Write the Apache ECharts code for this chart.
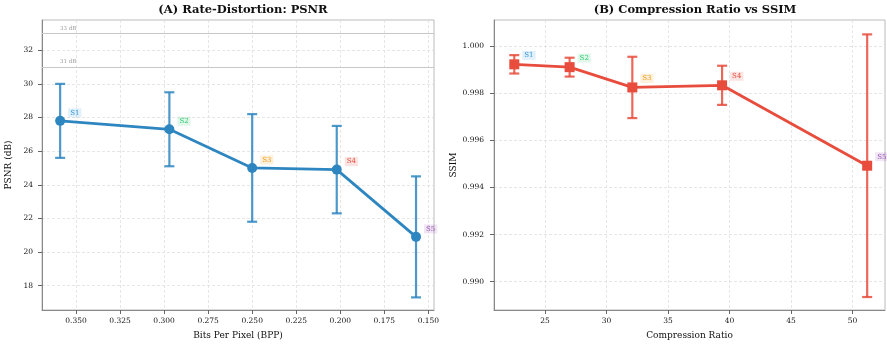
<!DOCTYPE html>
<html>
<head>
<meta charset="utf-8">
<script src="https://cdn.jsdelivr.net/npm/echarts@6/dist/echarts.min.js"></script>
<style>
  html, body { margin: 0; padding: 0; background: #fff; }
  #chart { width: 887px; height: 348px; }
</style>
</head>
<body>
<div id="chart"></div>
<script>
// Settings S1..S5: bitrate, PSNR (mean ± std), compression ratio, SSIM (mean ± std)
const names = ['S1', 'S2', 'S3', 'S4', 'S5'];
const nameColors = ['#3498db', '#2ecc71', '#f39c12', '#e74c3c', '#9b59b6'];
const bpp = [0.359, 0.297, 0.250, 0.202, 0.157];
const psnr = [27.8, 27.3, 25.0, 24.9, 20.9];
const psnrErr = [2.2, 2.2, 3.2, 2.6, 3.6];
const ratio = [22.5, 27.0, 32.1, 39.4, 51.2];
const ssim = [0.99922, 0.99910, 0.99824, 0.99833, 0.99492];
const ssimErr = [0.00039, 0.00040, 0.00130, 0.00083, 0.00557];

// Reference PSNR levels
const refLevels = [33, 31];
const refLabels = ['33 dB', '31 dB'];

// Tick labels
const bppTicks = [0.350, 0.325, 0.300, 0.275, 0.250, 0.225, 0.200, 0.175, 0.150];
const psnrTicks = [18, 20, 22, 24, 26, 28, 30, 32];
const ratioTicks = [25, 30, 35, 40, 45, 50];
const ssimTicks = [0.990, 0.992, 0.994, 0.996, 0.998, 1.000];

const FONT = 'DejaVu Serif';
const BLUE = '#2E86C1';
const RED = '#E74C3C';

const chart = echarts.init(document.getElementById('chart'), null, { renderer: 'canvas' });

function errorBarRenderer(capHalf) {
  return function (params, api) {
    const x = api.value(0);
    const lo = api.value(1);
    const hi = api.value(2);
    const top = api.coord([x, hi]);
    const bot = api.coord([x, lo]);
    const style = { stroke: api.visual('color'), lineWidth: 2.2, opacity: 0.85 };
    return {
      type: 'group',
      children: [
        { type: 'line', shape: { x1: top[0], y1: top[1], x2: bot[0], y2: bot[1] }, style },
        { type: 'line', shape: { x1: top[0] - capHalf, y1: top[1], x2: top[0] + capHalf, y2: top[1] }, style },
        { type: 'line', shape: { x1: bot[0] - capHalf, y1: bot[1], x2: bot[0] + capHalf, y2: bot[1] }, style }
      ]
    };
  };
}

function pointLabels(xs, ys) {
  return xs.map((x, i) => ({
    value: [x, ys[i]],
    label: {
      show: true,
      formatter: names[i],
      color: nameColors[i],
      backgroundColor: echarts.color.modifyAlpha(nameColors[i], 0.15),
      padding: [1, 2]
    }
  }));
}

const axisLabelStyle = { fontFamily: FONT, fontSize: 7.5, color: '#111' };
const axisNameStyle = { fontFamily: FONT, fontSize: 9, color: '#111' };
const gridLineStyle = { show: true, lineStyle: { color: '#e0e0e0', type: [3, 2], width: 0.8 } };
const axisLineStyle = { show: true, lineStyle: { color: '#888', width: 1 } };
const tickStyle = { show: true, length: 4, lineStyle: { color: '#666' } };

const option = {
  backgroundColor: '#fff',
  animation: false,
  title: [
    { text: '(A) Rate-Distortion: PSNR', left: 238, top: -1, textAlign: 'center',
      textStyle: { fontFamily: FONT, fontWeight: 'bold', fontSize: 11.5, color: '#111' } },
    { text: '(B) Compression Ratio vs SSIM', left: 690, top: -1, textAlign: 'center',
      textStyle: { fontFamily: FONT, fontWeight: 'bold', fontSize: 11.5, color: '#111' } }
  ],
  grid: [
    { left: 42, right: 453, top: 20, bottom: 38, show: true, borderColor: '#bbb', borderWidth: 1 },
    { left: 494, right: 2, top: 20, bottom: 38, show: true, borderColor: '#bbb', borderWidth: 1 }
  ],
  xAxis: [
    {
      gridIndex: 0, type: 'value', inverse: true, min: 0.1468, max: 0.3693,
      name: 'Bits Per Pixel (BPP)', nameLocation: 'middle', nameGap: 21, nameTextStyle: axisNameStyle,
      axisLine: axisLineStyle, axisTick: Object.assign({ customValues: bppTicks }, tickStyle),
      axisLabel: Object.assign({ customValues: bppTicks, margin: 7, formatter: v => v.toFixed(3) }, axisLabelStyle),
      splitLine: gridLineStyle
    },
    {
      gridIndex: 1, type: 'value', min: 20.85, max: 52.65,
      name: 'Compression Ratio', nameLocation: 'middle', nameGap: 21, nameTextStyle: axisNameStyle,
      axisLine: axisLineStyle, axisTick: Object.assign({ customValues: ratioTicks }, tickStyle),
      axisLabel: Object.assign({ customValues: ratioTicks, margin: 7 }, axisLabelStyle),
      splitLine: gridLineStyle
    }
  ],
  yAxis: [
    {
      gridIndex: 0, type: 'value', min: 16.55, max: 33.8,
      name: 'PSNR (dB)', nameLocation: 'middle', nameGap: 29, nameTextStyle: axisNameStyle,
      axisLine: axisLineStyle, axisTick: Object.assign({ customValues: psnrTicks }, tickStyle),
      axisLabel: Object.assign({ customValues: psnrTicks, margin: 9 }, axisLabelStyle),
      splitLine: gridLineStyle
    },
    {
      gridIndex: 1, type: 'value', min: 0.9888, max: 1.0011,
      name: 'SSIM', nameLocation: 'middle', nameGap: 34, nameTextStyle: axisNameStyle,
      axisLine: axisLineStyle, axisTick: Object.assign({ customValues: ssimTicks }, tickStyle),
      axisLabel: Object.assign({ customValues: ssimTicks, margin: 10, formatter: v => v.toFixed(3) }, axisLabelStyle),
      splitLine: gridLineStyle
    }
  ],
  series: [
    {
      type: 'custom', xAxisIndex: 0, yAxisIndex: 0, color: BLUE, z: 2,
      renderItem: errorBarRenderer(5),
      encode: { x: 0, y: [1, 2] },
      data: bpp.map((x, i) => [x, psnr[i] - psnrErr[i], psnr[i] + psnrErr[i]])
    },
    {
      type: 'line', xAxisIndex: 0, yAxisIndex: 0, z: 3,
      symbol: 'circle', symbolSize: 10,
      lineStyle: { color: BLUE, width: 2.8 },
      itemStyle: { color: BLUE },
      label: { position: 'right', distance: 3, offset: [0, -8], fontFamily: FONT, fontSize: 7 },
      data: pointLabels(bpp, psnr),
      markLine: {
        silent: true, symbol: 'none',
        lineStyle: { color: '#c8c8c8', type: 'solid', width: 1 },
        label: { position: 'insideEndTop', distance: [18, 2], fontFamily: FONT, fontSize: 5.5, color: '#999' },
        data: refLevels.map((v, i) => ({ yAxis: v, label: { formatter: refLabels[i] } }))
      }
    },
    {
      type: 'custom', xAxisIndex: 1, yAxisIndex: 1, color: RED, z: 2,
      renderItem: errorBarRenderer(5),
      encode: { x: 0, y: [1, 2] },
      data: ratio.map((x, i) => [x, ssim[i] - ssimErr[i], ssim[i] + ssimErr[i]])
    },
    {
      type: 'line', xAxisIndex: 1, yAxisIndex: 1, z: 3,
      symbol: 'rect', symbolSize: 10,
      lineStyle: { color: RED, width: 2.8 },
      itemStyle: { color: RED },
      label: { position: 'right', distance: 3, offset: [0, -9], fontFamily: FONT, fontSize: 7 },
      data: pointLabels(ratio, ssim)
    }
  ]
};

chart.setOption(option);
</script>
</body>
</html>
